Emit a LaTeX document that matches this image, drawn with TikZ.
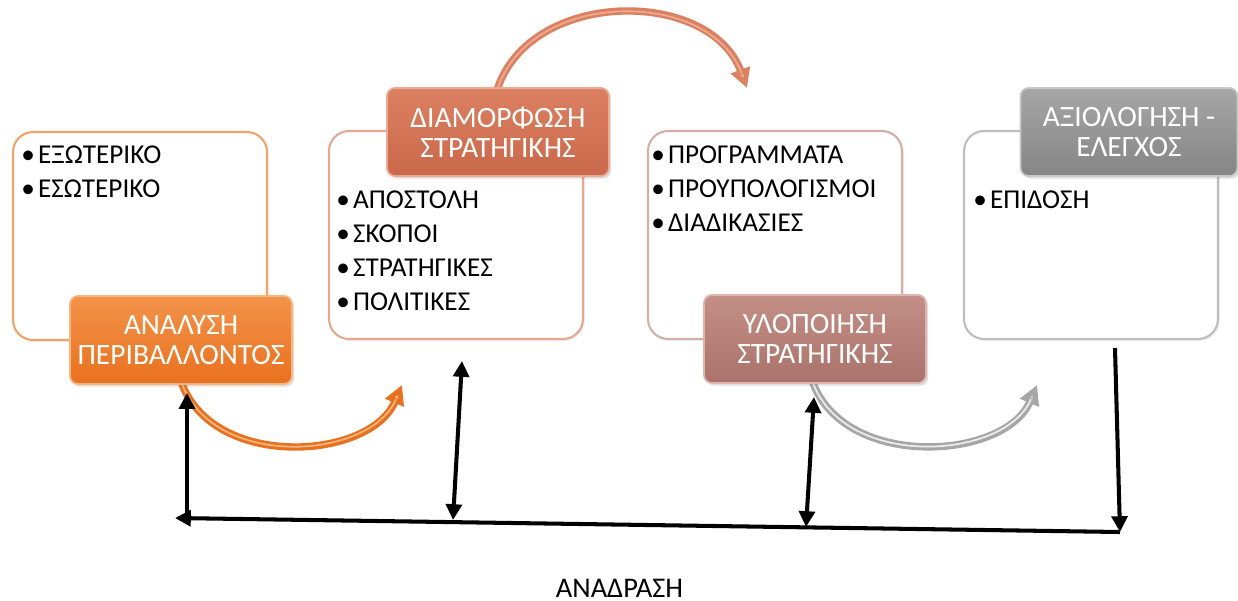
\documentclass[tikz,border=0pt]{standalone}
\usepackage{fontspec}
\setmainfont{Carlito}
\usetikzlibrary{arrows.meta,shadows}

% palette
\definecolor{orTop}{HTML}{F3934A}
\definecolor{orBot}{HTML}{E8711F}
\definecolor{orRim}{HTML}{F8B57E}
\definecolor{orLine}{HTML}{F2A468}
\definecolor{tcTop}{HTML}{DC8062}
\definecolor{tcBot}{HTML}{C9684B}
\definecolor{tcRim}{HTML}{EDAA92}
\definecolor{tcLine}{HTML}{E4A892}
\definecolor{rsTop}{HTML}{C48F87}
\definecolor{rsBot}{HTML}{A9736B}
\definecolor{rsRim}{HTML}{DDB5AF}
\definecolor{rsLine}{HTML}{D4AEA8}
\definecolor{gyTop}{HTML}{A6A6A6}
\definecolor{gyBot}{HTML}{858585}
\definecolor{gyRim}{HTML}{C8C8C8}
\definecolor{gyLine}{HTML}{BDBDBD}

% bullet with a small gap before the item text
\newcommand{\itm}{•\kern1.8pt}

\tikzset{
  panel/.style={rectangle, rounded corners=0.4cm, fill=white,
    line width=1.2pt, minimum width=5.08cm, minimum height=4.16cm,
    drop shadow={opacity=0.12, shadow xshift=1.2pt, shadow yshift=-1.2pt}},
  stagebox/.style={rectangle, rounded corners=0.16cm, line width=1pt,
    minimum width=4.44cm, minimum height=1.76cm, text=white, align=center,
    inner sep=0pt, font=\fontsize{16.8}{17}\selectfont,
    drop shadow={opacity=0.25, shadow xshift=1.2pt, shadow yshift=-1.5pt}},
  items/.style={anchor=north west, inner sep=0pt, align=left,
    font=\fontsize{15.5}{19.3}\selectfont},
  flow/.style={line width=4.2pt, line cap=round},
  gloss/.style={line width=1pt, line cap=round},
  fb/.style={line width=2.3pt, black},
  fbtip/.tip={Triangle[length=9pt,width=9pt]}
}

\begin{document}
\begin{tikzpicture}[x=0.02cm, y=-0.02cm]
\useasboundingbox (0,0) rectangle (1238,600);

% content panels
\node[panel, draw=orLine] (pA) at (140,236) {};
\node[panel, draw=tcLine] (pB) at (456,235) {};
\node[panel, draw=rsLine] (pC) at (775,235) {};
\node[panel, draw=gyLine] (pD) at (1091,235) {};

% bullet lists
\node[items] (lA) at (21,145.5) {\itm ΕΞΩΤΕΡΙΚΟ\\\itm ΕΣΩΤΕΡΙΚΟ};
\node[items] (lB) at (336,190.5) {\itm ΑΠΟΣΤΟΛΗ\\\itm ΣΚΟΠΟΙ\\\itm ΣΤΡΑΤΗΓΙΚΕΣ\\\itm ΠΟΛΙΤΙΚΕΣ};
\node[items] (lC) at (651,145.5) {\itm ΠΡΟΓΡΑΜΜΑΤΑ\\\itm ΠΡΟΥΠΟΛΟΓΙΣΜΟΙ\\\itm ΔΙΑΔΙΚΑΣΙΕΣ};
\node[items] (lD) at (973,190.5) {\itm ΕΠΙΔΟΣΗ};

% curved process arrows (behind the stage labels)
\coordinate (a1s) at (182,384);
\coordinate (a1e) at (402,385);
\coordinate (a2s) at (497,90);
\coordinate (a2e) at (747,88);
\coordinate (a3s) at (813,383);
\coordinate (a3e) at (1037,385);

\draw[flow, orBot, -{Triangle[length=11pt,width=11pt,fill=orRim]}]
  (a1s) .. controls (215,470) and (370,460) .. (a1e);
\draw[gloss, orRim, shorten >=9pt]
  (a1s) .. controls (215,470) and (370,460) .. (a1e);

\draw[flow, tcTop, -{Triangle[length=11pt,width=11pt,fill=tcRim]}]
  (a2s) .. controls (530,-12) and (710,-12) .. (a2e);
\draw[gloss, tcRim, shorten >=9pt]
  (a2s) .. controls (530,-12) and (710,-12) .. (a2e);

\draw[flow, gyTop, -{Triangle[length=11pt,width=11pt,fill=gyRim]}]
  (a3s) .. controls (846,470) and (1005,460) .. (a3e);
\draw[gloss, white!85!gray, shorten >=9pt]
  (a3s) .. controls (846,470) and (1005,460) .. (a3e);

% stage labels
\node[stagebox, top color=orTop, bottom color=orBot, draw=orRim] (sA) at (181,340)
  {ΑΝΑΛΥΣΗ\\ΠΕΡΙΒΑΛΛΟΝΤΟΣ};
\node[stagebox, top color=tcTop, bottom color=tcBot, draw=tcRim] (sB) at (498,132)
  {ΔΙΑΜΟΡΦΩΣΗ\\ΣΤΡΑΤΗΓΙΚΗΣ};
\node[stagebox, top color=rsTop, bottom color=rsBot, draw=rsRim] (sC) at (815,339)
  {ΥΛΟΠΟΙΗΣΗ\\ΣΤΡΑΤΗΓΙΚΗΣ};
\node[stagebox, minimum width=4.34cm, top color=gyTop, bottom color=gyBot, draw=gyRim] (sD) at (1129,132)
  {ΑΞΙΟΛΟΓΗΣΗ -\\ΕΛΕΓΧΟΣ};

% feedback loop
\coordinate (fbR) at (1120,532);
\coordinate (fbL) at (175,518);
\coordinate (v1b) at (187,519);
\coordinate (v1t) at (187,393);
\coordinate (v2t) at (462,361);
\coordinate (v2b) at (453,520);
\coordinate (v3t) at (814,397);
\coordinate (v3b) at (806,527);
\coordinate (v4t) at (1115,348);

\draw[fb, -{fbtip}] (fbR) -- (fbL);
\draw[fb, -{fbtip}] (v1b) -- (v1t);
\draw[fb, {fbtip}-{fbtip}] (v2t) -- (v2b);
\draw[fb, {fbtip}-{fbtip}] (v3t) -- (v3b);
\draw[fb, -{fbtip}] (v4t) -- (fbR);

\node[inner sep=0pt, anchor=base, font=\fontsize{16.2}{17}\selectfont] (fbLabel) at (619.5,597) {ΑΝΑΔΡΑΣΗ};
\end{tikzpicture}
\end{document}
